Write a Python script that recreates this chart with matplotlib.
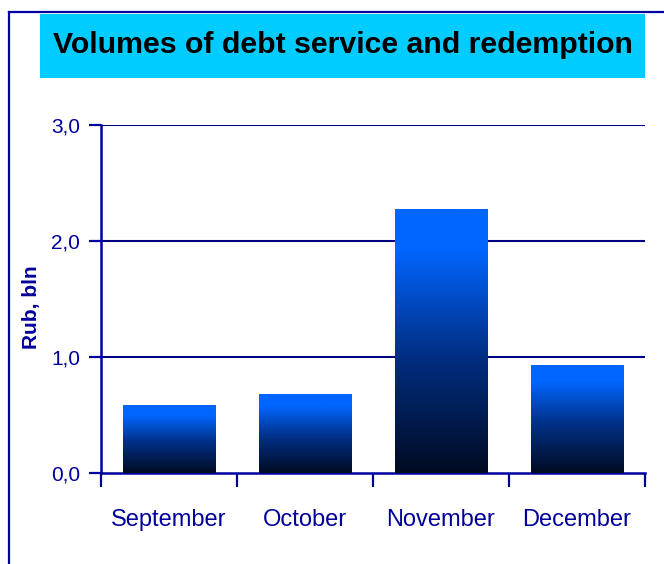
import matplotlib
matplotlib.use("Agg")
import matplotlib.pyplot as plt
import numpy as np
from matplotlib.colors import LinearSegmentedColormap
from matplotlib.patches import Rectangle
from matplotlib.lines import Line2D

months = ["September", "October", "November", "December"]
volumes = [0.58, 0.68, 2.27, 0.93]
yticks = [0.0, 1.0, 2.0, 3.0]
ytick_labels = ["0,0", "1,0", "2,0", "3,0"]
title = "Volumes of debt service and redemption"
ylabel = "Rub, bln"

navy = "#000099"
plt.rcParams["font.family"] = ["Liberation Sans", "DejaVu Sans"]

W, H = 664, 564
fig = plt.figure(figsize=(W / 100, H / 100), dpi=100)

# outer frame (left and top edges)
fig.add_artist(Line2D([9 / W, 9 / W], [0, 1 - 12 / H], color="#0000a0", lw=1.6,
                      transform=fig.transFigure))
fig.add_artist(Line2D([9 / W, 1], [1 - 12 / H, 1 - 12 / H], color="#0000a0", lw=1.6,
                      transform=fig.transFigure))

# title banner
fig.add_artist(Rectangle((40 / W, 1 - 78 / H), (645 - 40) / W, (78 - 14) / H,
                         facecolor="#00ccff", edgecolor="none", transform=fig.transFigure))
fig.text(343 / W, 1 - 45 / H, title, ha="center", va="center", fontsize=21.8,
         fontweight="bold", color="black")

ax = fig.add_axes([101 / W, 91 / H, (645 - 101) / W, (473 - 125) / H])
x = np.arange(len(months))
bars = ax.bar(x, volumes, width=0.68, color="none", edgecolor="none", zorder=3)

cmap = LinearSegmentedColormap.from_list(
    "bar", [(0.0, "#000b22"), (0.45, "#002f85"), (0.85, "#0066ff"), (1.0, "#0066ff")])
grad = np.linspace(0, 1, 256).reshape(-1, 1)
for b in bars:
    x0, w, h = b.get_x(), b.get_width(), b.get_height()
    ax.imshow(grad, extent=(x0, x0 + w, 0, h), origin="lower", aspect="auto",
              cmap=cmap, zorder=3, interpolation="bilinear")

ax.set_xlim(-0.5, len(months) - 0.5)
ax.set_ylim(0, 3.0)
ax.set_yticks(yticks)
ax.set_yticklabels(ytick_labels)
ax.set_xticks(x)
ax.set_xticklabels(months)
ax.set_xticks(np.arange(-0.5, len(months)), minor=True)
ax.tick_params(axis="x", which="major", length=0, pad=26, labelsize=17, labelcolor=navy)
ax.tick_params(axis="x", which="minor", length=10, width=1.6, color=navy, direction="out")
ax.tick_params(axis="y", length=9, width=1.6, color=navy, direction="out", pad=6,
               labelsize=15, labelcolor=navy)

for yv in yticks[1:]:
    ax.axhline(yv, color="#000080", lw=1.5, zorder=1)

for s in ["top", "right"]:
    ax.spines[s].set_visible(False)
for s in ["left", "bottom"]:
    ax.spines[s].set_color("#0000a0")
    ax.spines[s].set_linewidth(1.8)
ax.spines["bottom"].set_bounds(-0.5, len(months) - 0.5)

fig.text(32 / W, 1 - 307 / H, ylabel, rotation=90, ha="center", va="center",
         fontsize=15, fontweight="bold", color=navy)

fig.savefig("out.png", dpi=100)
